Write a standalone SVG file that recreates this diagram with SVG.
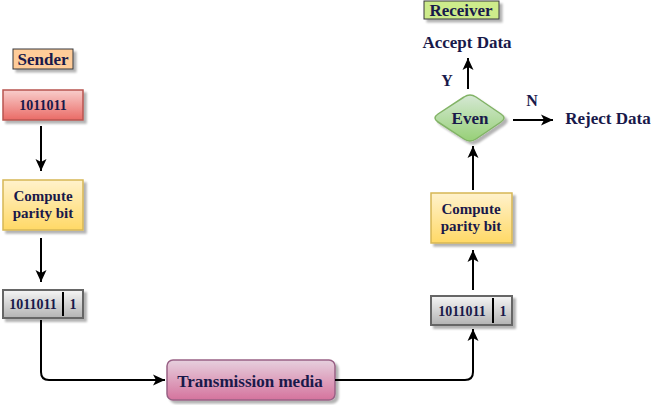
<svg xmlns="http://www.w3.org/2000/svg" width="656" height="405" viewBox="0 0 656 405">
<style>
text{font-family:"Liberation Serif","Times New Roman",serif;font-weight:bold;fill:#19194a;text-anchor:middle;dominant-baseline:central}
.e{fill:none;stroke:#000;stroke-width:2}
.sh{filter:url(#shadow)}
</style>
<defs>
<filter id="shadow" x="-20%" y="-20%" width="150%" height="160%">
<feGaussianBlur in="SourceAlpha" stdDeviation="1"/>
<feOffset dx="3" dy="3" result="o"/>
<feComponentTransfer><feFuncA type="linear" slope="0.3"/></feComponentTransfer>
<feMerge><feMergeNode/><feMergeNode in="SourceGraphic"/></feMerge>
</filter>
<linearGradient id="gRed" x1="0" y1="0" x2="0" y2="1"><stop offset="0" stop-color="#f8cecc"/><stop offset="1" stop-color="#ea6b66"/></linearGradient>
<linearGradient id="gYel" x1="0" y1="0" x2="0" y2="1"><stop offset="0" stop-color="#fff2cc"/><stop offset="1" stop-color="#ffd966"/></linearGradient>
<linearGradient id="gGray" x1="0" y1="0" x2="0" y2="1"><stop offset="0" stop-color="#f5f5f5"/><stop offset="1" stop-color="#b3b3b3"/></linearGradient>
<linearGradient id="gPink" x1="0" y1="0" x2="0" y2="1"><stop offset="0" stop-color="#e6d0de"/><stop offset="1" stop-color="#d5739d"/></linearGradient>
<linearGradient id="gGreen" x1="0" y1="0" x2="0" y2="1"><stop offset="0" stop-color="#d5e8d4"/><stop offset="1" stop-color="#97d077"/></linearGradient>
<marker id="arr" markerUnits="userSpaceOnUse" markerWidth="13" markerHeight="13" viewBox="0 0 13 13" refX="12" refY="6.5" orient="auto">
<path d="M0,1 L12,6.5 L0,12 L3,6.5 Z" fill="#000"/>
</marker>
</defs>

<g id="sender">
<rect class="sh" x="13" y="49" width="60" height="20" fill="#ffcc99" stroke="#36393d" stroke-width="1"/>
<text x="43" y="59.5" font-size="17">Sender</text>
</g>
<g id="data-sender">
<rect class="sh" x="3" y="90" width="80" height="30" fill="url(#gRed)" stroke="#b85450" stroke-width="1.5"/>
<text x="43" y="105" font-size="14">1011011</text>
</g>
<g id="compute-sender">
<rect class="sh" x="3" y="180" width="80" height="50" fill="url(#gYel)" stroke="#d6b656" stroke-width="1.5"/>
<text x="43" y="196" font-size="15">Compute</text>
<text x="43" y="213" font-size="15">parity bit</text>
</g>
<g id="frame-sender">
<rect class="sh" x="3" y="290" width="80" height="28" fill="url(#gGray)" stroke="#666666" stroke-width="2"/>
<line x1="63" y1="292" x2="63" y2="316" stroke="#000" stroke-width="2"/>
<text x="33" y="304" font-size="14">1011011</text>
<text x="73" y="304" font-size="14">1</text>
</g>
<g id="transmission">
<rect class="sh" x="167" y="360" width="168" height="40" rx="6" fill="url(#gPink)" stroke="#996185" stroke-width="1.5"/>
<text x="250" y="381" font-size="17">Transmission media</text>
</g>
<g id="frame-receiver">
<rect class="sh" x="431" y="296" width="81" height="29" fill="url(#gGray)" stroke="#666666" stroke-width="2"/>
<line x1="493" y1="298" x2="493" y2="323" stroke="#000" stroke-width="2"/>
<text x="462" y="311" font-size="14">1011011</text>
<text x="503" y="311" font-size="14">1</text>
</g>
<g id="compute-receiver">
<rect class="sh" x="431" y="193" width="81" height="50" fill="url(#gYel)" stroke="#d6b656" stroke-width="1.5"/>
<text x="471" y="209" font-size="15">Compute</text>
<text x="471" y="226" font-size="15">parity bit</text>
</g>
<g id="even">
<path class="sh" d="M464,97 Q470,93 476,97 L501,114 Q507,118 501,122 L476,139 Q470,143 464,139 L438,122 Q432,118 438,114 Z" fill="url(#gGreen)" stroke="#82b366" stroke-width="1.5"/>
<text x="470" y="118" font-size="17">Even</text>
</g>
<g id="receiver">
<rect class="sh" x="424" y="1" width="75" height="18" fill="#cdeb8b" stroke="#36393d" stroke-width="1"/>
<text x="461" y="10.5" font-size="17">Receiver</text>
</g>
<g id="accept">
<text x="467" y="42" font-size="17">Accept Data</text>
</g>
<g id="reject">
<text x="608" y="118" font-size="17">Reject Data</text>
</g>

<g id="connectors">
<path class="e" d="M41,126 L41,171" marker-end="url(#arr)"/>
<path class="e" d="M41,238 L41,282" marker-end="url(#arr)"/>
<path class="e" d="M41,320 L41,372 Q41,380 49,380 L165,380" marker-end="url(#arr)"/>
<path class="e" d="M335,380 L465,380 Q473,380 473,372 L473,329" marker-end="url(#arr)"/>
<path class="e" d="M473,290 L473,250" marker-end="url(#arr)"/>
<path class="e" d="M473,190 L473,146" marker-end="url(#arr)"/>
<path class="e" d="M468,89 L468,58" marker-end="url(#arr)"/>
<path class="e" d="M513,120 L553,120" marker-end="url(#arr)"/>
<text x="447" y="80" font-size="16">Y</text>
<text x="532" y="100" font-size="16">N</text>
</g>
</svg>
